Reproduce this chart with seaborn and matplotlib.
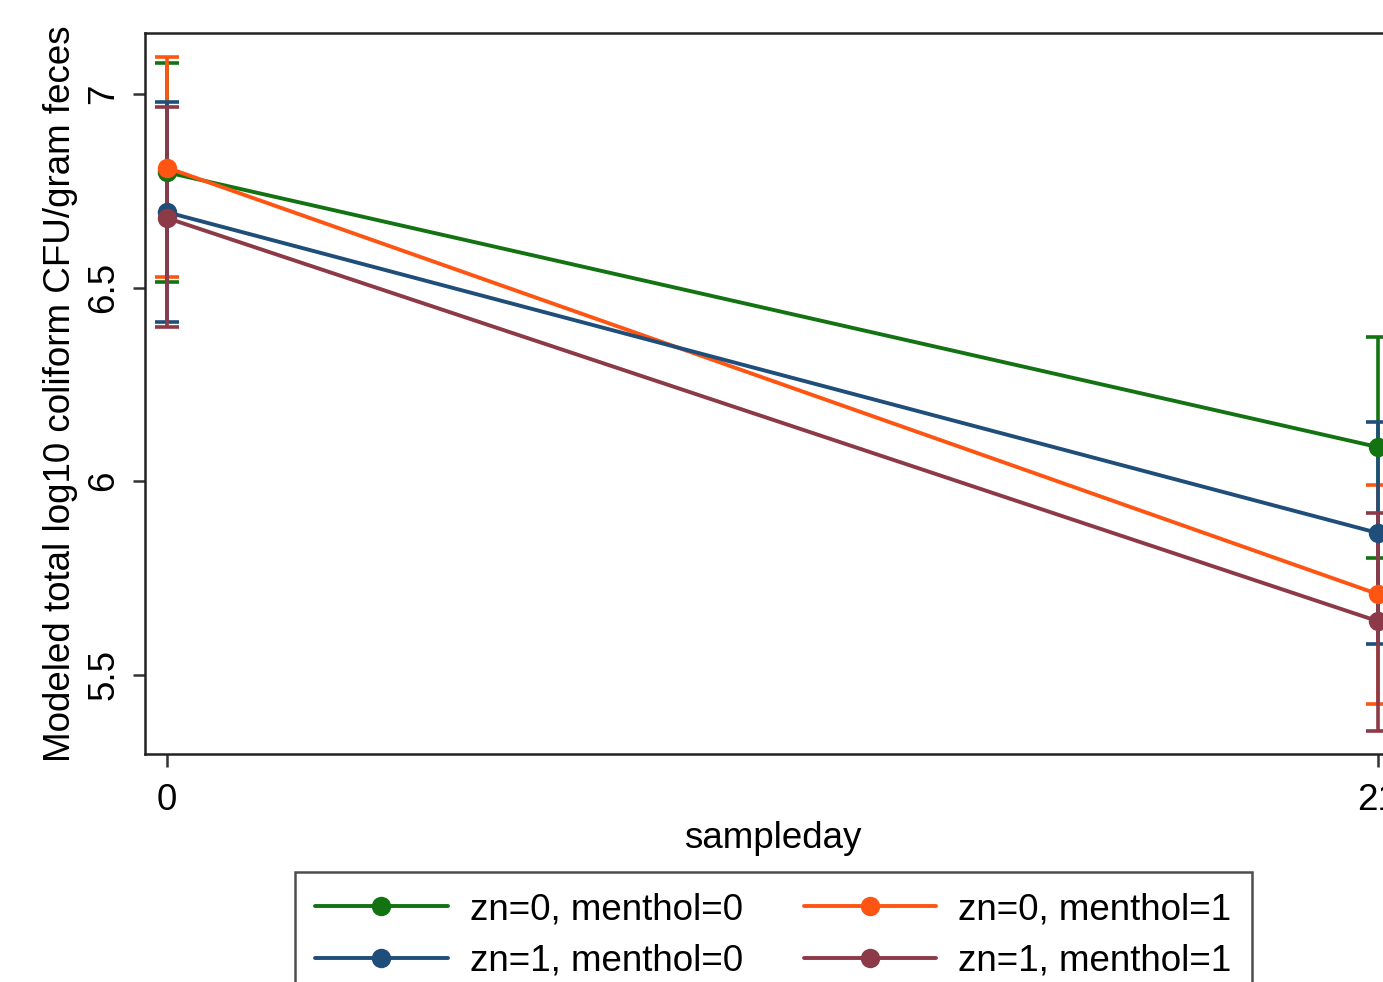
import numpy as np
import pandas as pd
import matplotlib
matplotlib.use("Agg")
import matplotlib.pyplot as plt
import seaborn as sns
from matplotlib.lines import Line2D

# values
DAYS = [0, 21]
GROUPS = ["zn=0, menthol=0", "zn=0, menthol=1", "zn=1, menthol=0", "zn=1, menthol=1"]
EST = {
    "zn=0, menthol=0": [6.798, 6.088],
    "zn=0, menthol=1": [6.810, 5.708],
    "zn=1, menthol=0": [6.695, 5.866],
    "zn=1, menthol=1": [6.680, 5.638],
}
LO = {
    "zn=0, menthol=0": [6.514, 5.802],
    "zn=0, menthol=1": [6.528, 5.424],
    "zn=1, menthol=0": [6.412, 5.580],
    "zn=1, menthol=1": [6.399, 5.355],
}
HI = {
    "zn=0, menthol=0": [7.081, 6.372],
    "zn=0, menthol=1": [7.096, 5.990],
    "zn=1, menthol=0": [6.979, 6.152],
    "zn=1, menthol=1": [6.966, 5.917],
}
COLORS = {
    "zn=0, menthol=0": "#137313",
    "zn=0, menthol=1": "#ff5512",
    "zn=1, menthol=0": "#1f4e7a",
    "zn=1, menthol=1": "#8c3a48",
}
YTICKS = [5.5, 6, 6.5, 7]
YTICKLABELS = ["5.5", "6", "6.5", "7"]

rows = []
for g in GROUPS:
    for i, d in enumerate(DAYS):
        rows.append({"sampleday": d, "group": g, "est": EST[g][i], "lo": LO[g][i], "hi": HI[g][i]})
df = pd.DataFrame(rows)

sns.set_theme(style="white")
plt.rcParams["font.family"] = ["Liberation Sans", "DejaVu Sans"]
plt.rcParams["text.color"] = "black"
plt.rcParams["axes.labelcolor"] = "black"
plt.rcParams["xtick.color"] = "black"
plt.rcParams["ytick.color"] = "black"
FS = 26.5

W, H = 1383, 982
fig = plt.figure(figsize=(W / 100, H / 100), dpi=100)
ax = fig.add_axes([145 / W, 1 - 754 / H, (1400 - 145) / W, (754 - 33) / H])

# error bars first, then lines with markers on top
for g in GROUPS:
    sub = df[df.group == g]
    ax.errorbar(sub.sampleday, sub.est,
                yerr=[sub.est - sub.lo, sub.hi - sub.est],
                fmt="none", ecolor=COLORS[g], elinewidth=2.6, capsize=8.5, capthick=2.6, zorder=2)

sns.lineplot(data=df, x="sampleday", y="est", hue="group", hue_order=GROUPS,
             palette=COLORS, marker="o", markersize=14, markeredgewidth=0,
             linewidth=2.8, legend=False, ax=ax, zorder=3)

ax.set_xlim(-0.381, 21.381)
ax.set_ylim(5.295, 7.158)
ax.set_xticks(DAYS)
ax.set_xticklabels([str(d) for d in DAYS], fontsize=FS)
ax.set_yticks(YTICKS)
ax.set_yticklabels(YTICKLABELS, fontsize=FS, rotation=90, va="center")
ax.tick_params(axis="both", direction="out", length=9, width=1.8, color="#333333",
               left=True, bottom=True, pad=8)
ax.tick_params(axis="x", pad=12)
ax.set_xlabel("sampleday", fontsize=FS, labelpad=2)
ax.set_ylabel("Modeled total log10 coliform CFU/gram feces", fontsize=FS, labelpad=6)
for s in ax.spines.values():
    s.set_color("#222222")
    s.set_linewidth(1.8)
ax.grid(False)

handles = {g: Line2D([], [], color=COLORS[g], marker="o", markersize=14, linewidth=2.8,
                     markeredgewidth=0) for g in GROUPS}
order = [GROUPS[0], GROUPS[2], GROUPS[1], GROUPS[3]]  # column-first fill -> row-wise look
leg = fig.legend([handles[g] for g in order], order, loc="upper left",
                 bbox_to_anchor=(295 / W, 1 - 872 / H), ncol=2, fontsize=FS,
                 frameon=True, fancybox=False, edgecolor="#222222",
                 handlelength=3.6, handletextpad=0.6, columnspacing=1.65,
                 labelspacing=0.45, borderpad=0.55, borderaxespad=0)
leg.get_frame().set_linewidth(1.8)

fig.savefig("out.png", dpi=100)
